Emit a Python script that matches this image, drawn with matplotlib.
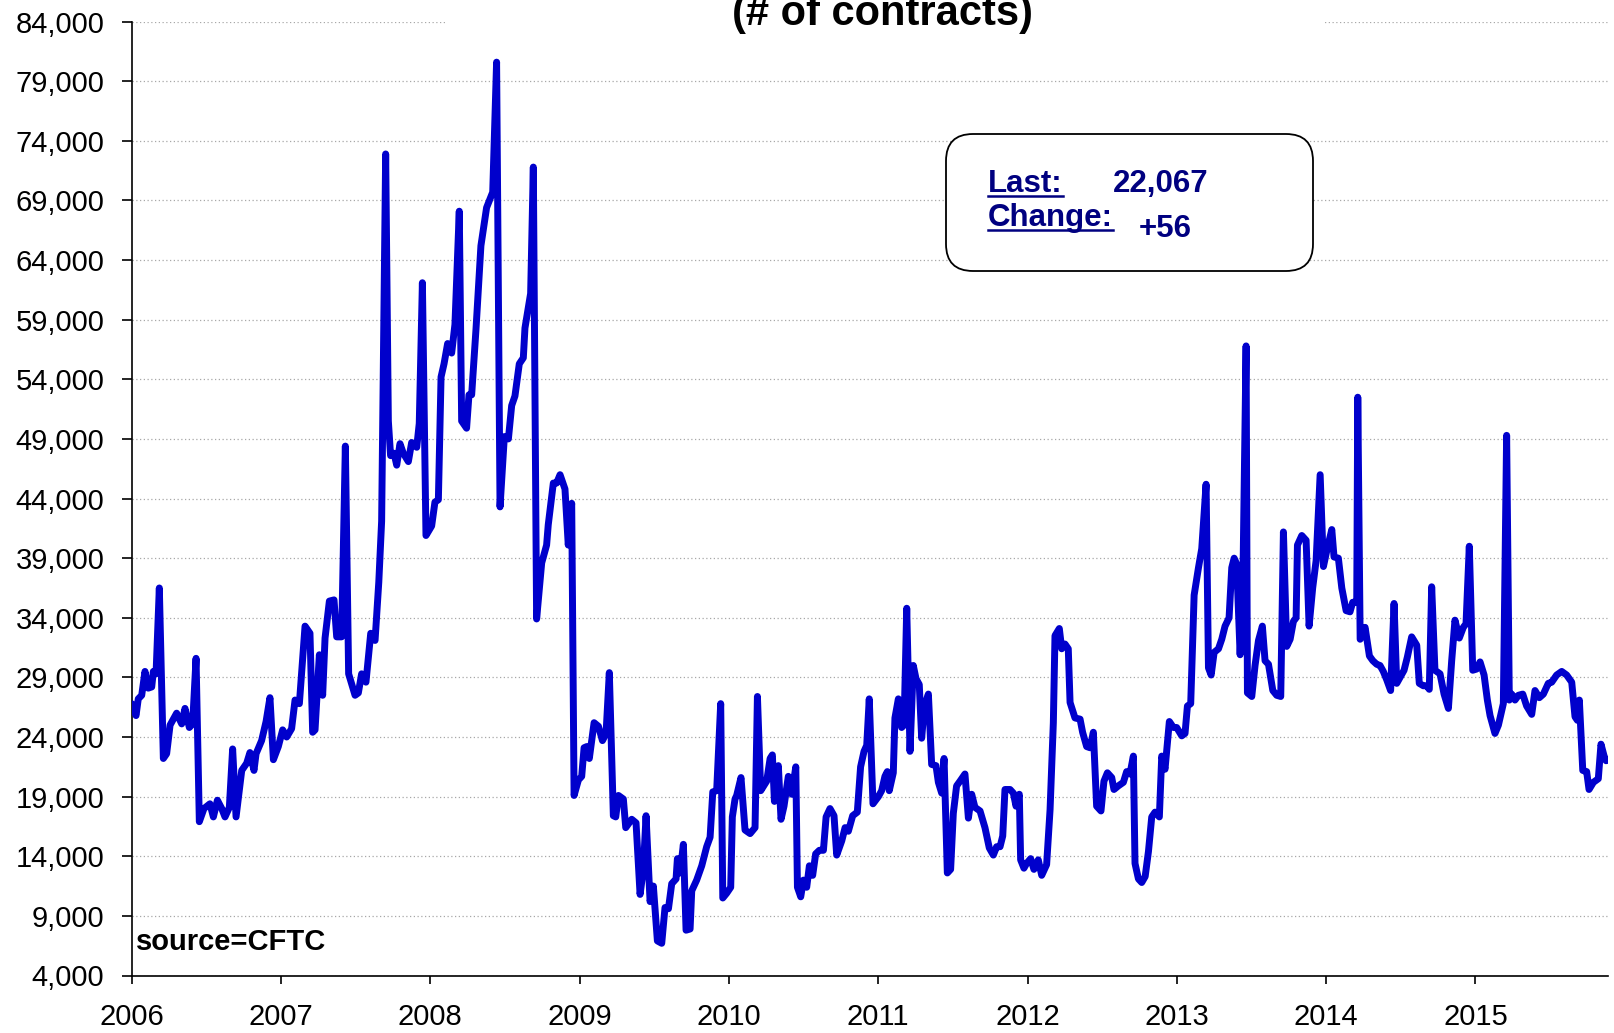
import matplotlib
matplotlib.use('Agg')
import matplotlib.pyplot as plt
from matplotlib.patches import FancyBboxPatch, Rectangle
from matplotlib.lines import Line2D
from matplotlib.ticker import FuncFormatter

# weekly positions, x in decimal years
years = [
    2006.000, 2006.029, 2006.044, 2006.067, 2006.089, 2006.111, 2006.134, 2006.145, 2006.163, 2006.185,
    2006.212, 2006.234, 2006.257, 2006.301, 2006.335, 2006.357, 2006.386, 2006.408, 2006.431, 2006.453,
    2006.484, 2006.524, 2006.547, 2006.574, 2006.603, 2006.625, 2006.654, 2006.676, 2006.699, 2006.737,
    2006.770, 2006.792, 2006.819, 2006.833, 2006.870, 2006.900, 2006.926, 2006.949, 2006.982, 2007.011,
    2007.038, 2007.071, 2007.094, 2007.123, 2007.161, 2007.194, 2007.212, 2007.228, 2007.257, 2007.279,
    2007.295, 2007.324, 2007.355, 2007.373, 2007.406, 2007.431, 2007.453, 2007.496, 2007.518, 2007.540,
    2007.569, 2007.601, 2007.630, 2007.655, 2007.674, 2007.701, 2007.719, 2007.734, 2007.757, 2007.775,
    2007.797, 2007.819, 2007.853, 2007.875, 2007.909, 2007.926, 2007.947, 2007.971, 2008.009, 2008.031,
    2008.054, 2008.072, 2008.092, 2008.116, 2008.143, 2008.165, 2008.194, 2008.210, 2008.243, 2008.259,
    2008.277, 2008.306, 2008.339, 2008.377, 2008.418, 2008.444, 2008.467, 2008.496, 2008.523, 2008.545,
    2008.567, 2008.596, 2008.623, 2008.634, 2008.672, 2008.690, 2008.712, 2008.746, 2008.779, 2008.790,
    2008.824, 2008.846, 2008.869, 2008.902, 2008.924, 2008.947, 2008.963, 2008.992, 2009.014, 2009.030,
    2009.048, 2009.065, 2009.097, 2009.126, 2009.153, 2009.177, 2009.199, 2009.226, 2009.242, 2009.260,
    2009.293, 2009.309, 2009.349, 2009.378, 2009.405, 2009.427, 2009.445, 2009.472, 2009.494, 2009.521,
    2009.550, 2009.572, 2009.595, 2009.617, 2009.646, 2009.655, 2009.673, 2009.695, 2009.713, 2009.740,
    2009.751, 2009.784, 2009.818, 2009.851, 2009.874, 2009.892, 2009.918, 2009.945, 2009.959, 2009.985,
    2010.012, 2010.023, 2010.041, 2010.052, 2010.081, 2010.108, 2010.142, 2010.175, 2010.191, 2010.213,
    2010.253, 2010.276, 2010.291, 2010.305, 2010.331, 2010.349, 2010.369, 2010.398, 2010.421, 2010.448,
    2010.459, 2010.481, 2010.499, 2010.521, 2010.539, 2010.561, 2010.581, 2010.606, 2010.633, 2010.651,
    2010.677, 2010.704, 2010.722, 2010.756, 2010.778, 2010.800, 2010.829, 2010.860, 2010.882, 2010.905,
    2010.923, 2010.940, 2010.965, 2011.001, 2011.023, 2011.045, 2011.061, 2011.074, 2011.101, 2011.112,
    2011.135, 2011.157, 2011.173, 2011.191, 2011.213, 2011.235, 2011.253, 2011.275, 2011.291, 2011.309,
    2011.336, 2011.358, 2011.387, 2011.403, 2011.425, 2011.441, 2011.463, 2011.485, 2011.503, 2011.525,
    2011.548, 2011.581, 2011.604, 2011.626, 2011.648, 2011.682, 2011.715, 2011.744, 2011.771, 2011.793,
    2011.816, 2011.834, 2011.849, 2011.883, 2011.905, 2011.923, 2011.945, 2011.954, 2011.976, 2011.994,
    2012.021, 2012.043, 2012.072, 2012.095, 2012.128, 2012.151, 2012.173, 2012.184, 2012.213, 2012.229,
    2012.251, 2012.273, 2012.285, 2012.318, 2012.352, 2012.369, 2012.396, 2012.419, 2012.441, 2012.463,
    2012.492, 2012.512, 2012.535, 2012.564, 2012.579, 2012.608, 2012.642, 2012.664, 2012.686, 2012.709,
    2012.720, 2012.743, 2012.765, 2012.788, 2012.810, 2012.832, 2012.854, 2012.883, 2012.899, 2012.921,
    2012.950, 2012.977, 2012.999, 2013.033, 2013.055, 2013.071, 2013.093, 2013.116, 2013.145, 2013.167,
    2013.196, 2013.212, 2013.230, 2013.250, 2013.279, 2013.301, 2013.323, 2013.350, 2013.368, 2013.384,
    2013.401, 2013.424, 2013.442, 2013.464, 2013.473, 2013.502, 2013.524, 2013.547, 2013.573, 2013.591,
    2013.614, 2013.643, 2013.669, 2013.696, 2013.714, 2013.736, 2013.759, 2013.781, 2013.799, 2013.808,
    2013.837, 2013.866, 2013.886, 2013.910, 2013.933, 2013.960, 2013.982, 2014.004, 2014.038, 2014.053,
    2014.082, 2014.105, 2014.134, 2014.160, 2014.178, 2014.205, 2014.212, 2014.228, 2014.261, 2014.290,
    2014.313, 2014.339, 2014.361, 2014.383, 2014.406, 2014.432, 2014.455, 2014.473, 2014.495, 2014.522,
    2014.544, 2014.573, 2014.607, 2014.624, 2014.651, 2014.674, 2014.691, 2014.707, 2014.729, 2014.763,
    2014.790, 2014.819, 2014.841, 2014.863, 2014.892, 2014.919, 2014.937, 2014.959, 2014.982, 2015.008,
    2015.031, 2015.058, 2015.080, 2015.098, 2015.131, 2015.154, 2015.187, 2015.209, 2015.227, 2015.243,
    2015.265, 2015.288, 2015.317, 2015.343, 2015.377, 2015.399, 2015.428, 2015.455, 2015.488, 2015.511,
    2015.544, 2015.578, 2015.611, 2015.645, 2015.667, 2015.683, 2015.696, 2015.719, 2015.745, 2015.761,
    2015.790, 2015.823, 2015.841, 2015.862, 2015.875, 2015.890,
]

contracts = [
    26800, 25800, 27200, 27500, 29500, 28100, 28200, 29500, 29300, 36500,
    22200, 22600, 25000, 26000, 25100, 26400, 24800, 25100, 30600, 16900,
    18000, 18400, 17300, 18700, 18000, 17300, 18100, 23000, 17300, 21200,
    21800, 22700, 21200, 22600, 23700, 25300, 27300, 22100, 23200, 24600,
    24000, 24700, 27100, 26800, 33300, 32700, 24400, 24600, 30900, 27500,
    32300, 35400, 35500, 32400, 32400, 48400, 29300, 27500, 27700, 29300,
    28600, 32700, 32100, 37000, 42100, 72900, 50500, 47600, 47800, 46800,
    48600, 47800, 47100, 48700, 48300, 50300, 62100, 40900, 41700, 43700,
    43900, 54200, 55300, 57000, 56200, 58600, 68100, 50500, 49900, 52700,
    52700, 58200, 65200, 68400, 69700, 80600, 43300, 49200, 49000, 51800,
    52600, 55300, 55800, 58300, 61200, 71800, 33900, 38600, 40100, 41800,
    45300, 45300, 46000, 44800, 40100, 43600, 19100, 20400, 20700, 23100,
    23200, 22200, 25200, 24900, 23700, 24300, 29400, 17400, 17300, 19100,
    18800, 16400, 17100, 16800, 10800, 12900, 17400, 10200, 11500, 6900,
    6700, 9700, 9600, 11700, 12100, 13800, 12600, 15000, 7800, 7900,
    11100, 12000, 13200, 14800, 15600, 19400, 19500, 26800, 10500, 10900,
    11400, 17300, 18800, 19100, 20600, 16200, 15900, 16400, 27400, 19500,
    20300, 22200, 22500, 18600, 21600, 17100, 18200, 20700, 19200, 21500,
    11400, 10600, 12000, 11400, 13200, 12400, 14200, 14500, 14500, 17300,
    18000, 17400, 14100, 15300, 16400, 16100, 17400, 17700, 21500, 22800,
    23300, 27200, 18400, 19000, 19500, 20700, 21100, 19500, 21000, 25600,
    27200, 24800, 25000, 34800, 22800, 30000, 28900, 28400, 23900, 26600,
    27600, 21700, 21600, 20200, 19300, 22200, 12600, 12900, 17600, 19900,
    20300, 20900, 17200, 19200, 18100, 17800, 16400, 14700, 14100, 14800,
    14800, 15700, 19600, 19600, 19300, 18200, 19200, 13700, 13000, 13400,
    13800, 12900, 13700, 12400, 13300, 17900, 25200, 32500, 33100, 31400,
    31800, 31400, 26900, 25600, 25500, 24400, 23200, 23100, 24400, 18200,
    17800, 20300, 21000, 20600, 19600, 19900, 20200, 21100, 20900, 22400,
    13400, 12100, 11800, 12300, 14400, 17300, 17700, 17300, 22400, 21300,
    25300, 24800, 24800, 24100, 24300, 26600, 26800, 35900, 38200, 39800,
    45200, 29800, 29200, 31100, 31400, 32200, 33300, 34000, 38200, 39000,
    38500, 30900, 36500, 56800, 27700, 27400, 30000, 32100, 33300, 30400,
    30100, 27900, 27500, 27400, 41200, 31600, 32200, 33700, 34000, 40100,
    40900, 40500, 33300, 36500, 38800, 46000, 38300, 39600, 41400, 39100,
    39000, 36500, 34600, 34500, 35300, 35300, 52500, 32200, 33200, 30800,
    30400, 30100, 30000, 29500, 28800, 27900, 35200, 28500, 29000, 29600,
    30700, 32400, 31700, 28500, 28300, 28300, 28000, 36600, 29600, 29300,
    27600, 26400, 30400, 33800, 32300, 33200, 33500, 40000, 29600, 29700,
    30300, 29200, 27100, 25800, 24300, 25000, 26800, 49300, 27100, 27600,
    27100, 27500, 27600, 26600, 25900, 27900, 27300, 27600, 28500, 28600,
    29200, 29500, 29200, 28600, 25700, 25400, 27100, 21200, 21100, 19600,
    20200, 20500, 23400, 22400, 22011, 22067,
]

year_ticks = list(range(2006, 2016))
y_ticks = list(range(4000, 84001, 5000))

last_value = '22,067'
last_change = '+56'
subtitle = '(# of contracts)'
source_note = 'source=CFTC'

NAVY = '#000080'
W, H = 1614, 1033


def px(x, y):
    # pixel position (top-left origin) -> inches for dpi_scale_trans
    return x / 100.0, (H - y) / 100.0


def run():
    fig = plt.figure(figsize=(W / 100.0, H / 100.0), dpi=100)
    ax = fig.add_axes([131.7 / W, 57.5 / H, (1608.3 - 131.7) / W, (975.5 - 21.6) / H])

    ax.plot(years, contracts, color='#0000CC', lw=5.0, solid_joinstyle='round',
            solid_capstyle='round', zorder=3)

    ax.set_xlim(2006, 2015.89)
    ax.set_ylim(4000, 84000)
    ax.set_xticks(year_ticks)
    ax.set_xticklabels([str(y) for y in year_ticks])
    ax.set_yticks(y_ticks)
    ax.yaxis.set_major_formatter(FuncFormatter(lambda v, p: '{:,.0f}'.format(v)))

    ax.yaxis.grid(True, linestyle=(0, (1, 2)), color='#a8a8a8', lw=0.9)
    ax.set_axisbelow(True)

    for s in ('top', 'right'):
        ax.spines[s].set_visible(False)
    for s in ('left', 'bottom'):
        ax.spines[s].set_linewidth(1.2)
    ax.tick_params(axis='y', direction='out', length=7.2, width=1.2, pad=12.5,
                   labelsize=21)
    ax.tick_params(axis='x', direction='out', length=6, width=1.2, pad=14,
                   labelsize=21)
    for lab in ax.get_xticklabels() + ax.get_yticklabels():
        lab.set_family('Liberation Sans')

    ax.text(2006.03, 6150, source_note, fontsize=21, fontweight='bold',
            family='Liberation Sans', color='black')

    # title is mostly cut off, only the second line shows; white strip hides the top grid line
    fig.add_artist(Rectangle(px(445, 32), (1323 - 445) / 100.0, 0.40, transform=fig.dpi_scale_trans,
                             facecolor='white', edgecolor='none', zorder=2))
    x0, y0 = px(882, 25)
    fig.text(x0 / (W / 100.0), y0 / (H / 100.0), subtitle, ha='center', va='baseline',
             fontsize=30, fontweight='bold', family='Liberation Sans', zorder=3)

    # last value box
    bx, by = px(946, 271)
    box = FancyBboxPatch((bx, by), 3.67, 1.37, boxstyle='round,pad=0,rounding_size=0.27',
                         transform=fig.dpi_scale_trans, facecolor='white', edgecolor='black',
                         lw=1.3, zorder=2)
    fig.add_artist(box)

    def ftext(x, y, s):
        xi, yi = px(x, y)
        return fig.text(xi / (W / 100.0), yi / (H / 100.0), s, ha='left', va='baseline',
                        fontsize=22.5, fontweight='bold', family='Liberation Sans',
                        color=NAVY, zorder=4)

    t_last = ftext(988, 192, 'Last:')
    ftext(1113, 192, last_value)
    t_change = ftext(988, 226, 'Change:')
    ftext(1139, 237, last_change)

    # underline the two labels
    fig.canvas.draw()
    r = fig.canvas.get_renderer()
    for t, yline in ((t_last, 196), (t_change, 230)):
        bb = t.get_window_extent(r)
        yl = (H - yline) / float(H)
        fig.add_artist(Line2D([bb.x0 / W, bb.x1 / W], [yl, yl], transform=fig.transFigure,
                              color=NAVY, lw=1.8, zorder=4))

    fig.savefig('out.png', dpi=100)


if __name__ == '__main__':
    run()
